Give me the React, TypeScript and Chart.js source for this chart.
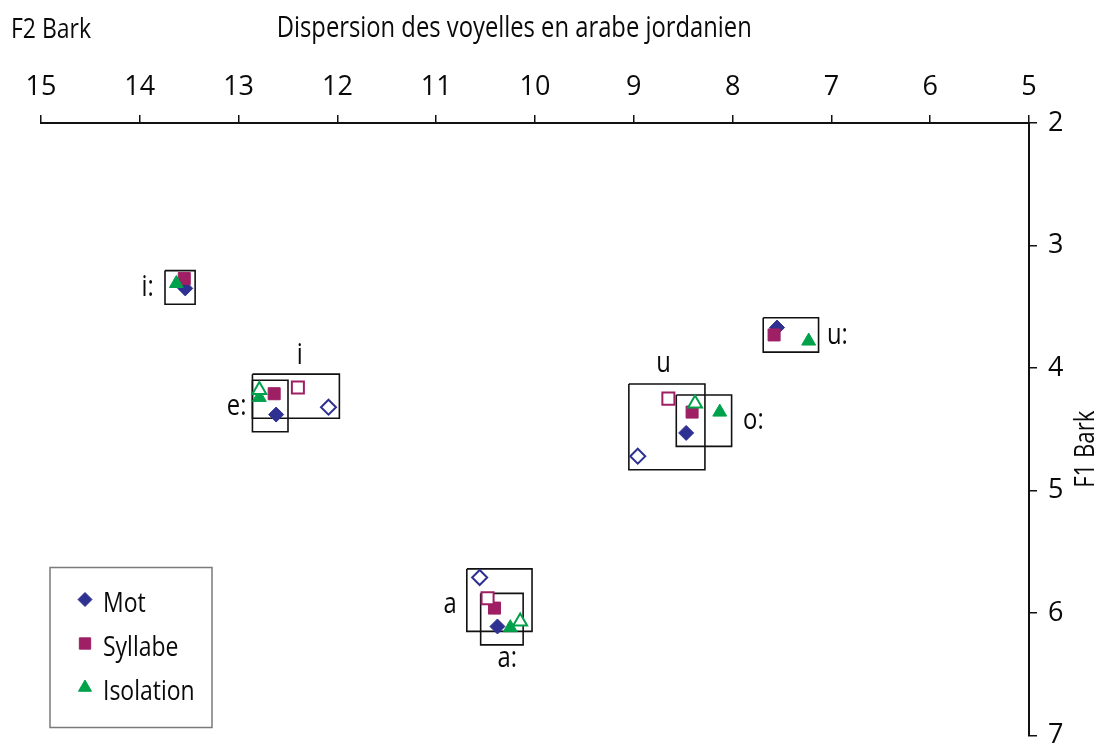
import React, { useEffect, useRef } from "react";
import { Chart, registerables } from "chart.js";
Chart.register(...registerables);

// Vowel categories (long vowels filled, short vowels hollow)
const vowels = ["i:", "e:", "u:", "o:", "a:", "i", "u", "a"];
const isShort = [false, false, false, false, false, true, true, true];

// Series values: F2 (Bark) and F1 (Bark)
const motF2 = [13.54, 12.62, 7.55, 8.47, 10.38, 12.09, 8.96, 10.56];
const motF1 = [3.35, 4.38, 3.67, 4.53, 6.11, 4.32, 4.72, 5.71];
const sylF2 = [13.55, 12.64, 7.58, 8.41, 10.41, 12.4, 8.65, 10.48];
const sylF1 = [3.27, 4.21, 3.73, 4.36, 5.96, 4.16, 4.25, 5.88];
const isoF2 = [13.63, 12.79, 7.23, 8.13, 10.25, 12.79, 8.38, 10.15];
const isoF1 = [3.31, 4.24, 3.78, 4.36, 6.12, 4.18, 4.29, 6.07];

// Dispersion boxes per vowel
const boxF2a = [13.745, 12.86, 7.69, 8.57, 10.55, 12.86, 9.05, 10.69];
const boxF2b = [13.44, 12.5, 7.13, 8.01, 10.12, 11.98, 8.28, 10.03];
const boxF1a = [3.205, 4.1, 3.59, 4.22, 5.84, 4.05, 4.13, 5.64];
const boxF1b = [3.48, 4.52, 3.87, 4.64, 6.26, 4.41, 4.83, 6.15];

// Vowel label anchor positions
const labelF2 = [13.92, 13.02, 6.94, 7.79, 10.28, 12.38, 8.7, 10.86];
const labelF1 = [3.41, 4.38, 3.8, 4.5, 6.44, 3.97, 4.03, 6.0];

// Axis ticks
const xTicks = [15, 14, 13, 12, 11, 10, 9, 8, 7, 6, 5];
const yTicks = [2, 3, 4, 5, 6, 7];

const seriesNames = ["Mot", "Syllabe", "Isolation"];
const seriesColors = ["#2e3192", "#9e1f63", "#00a14b"];
const seriesStyles = ["rectRot", "rect", "triangle"];
const seriesRadius = [7.5, 8.5, 8];

const FONT = '"Open Sans", "Noto Sans", sans-serif';
const CONDENSE = 0.82;

function drawText(
  ctx: CanvasRenderingContext2D,
  text: string,
  x: number,
  y: number,
  align: CanvasTextAlign,
  size: number,
  rotate = 0
) {
  ctx.save();
  ctx.translate(x, y);
  if (rotate) ctx.rotate(rotate);
  ctx.scale(CONDENSE, 1);
  ctx.font = `${size}px ${FONT}`;
  ctx.fillStyle = "#0a0a0a";
  ctx.textAlign = align;
  ctx.textBaseline = "alphabetic";
  ctx.fillText(text, 0, 0);
  ctx.restore();
}

function marker(ctx: CanvasRenderingContext2D, style: string, x: number, y: number, r: number, color: string) {
  ctx.save();
  ctx.fillStyle = color;
  ctx.strokeStyle = color;
  ctx.lineWidth = 1;
  ctx.beginPath();
  if (style === "rectRot") {
    ctx.moveTo(x, y - r);
    ctx.lineTo(x + r, y);
    ctx.lineTo(x, y + r);
    ctx.lineTo(x - r, y);
  } else if (style === "rect") {
    const s = Math.SQRT1_2 * r;
    ctx.rect(x - s, y - s, 2 * s, 2 * s);
  } else {
    let a = 0;
    ctx.moveTo(x + Math.sin(a) * r, y - Math.cos(a) * r);
    a += (2 * Math.PI) / 3;
    ctx.lineTo(x + Math.sin(a) * r, y - Math.cos(a) * r);
    a += (2 * Math.PI) / 3;
    ctx.lineTo(x + Math.sin(a) * r, y - Math.cos(a) * r);
  }
  ctx.closePath();
  ctx.fill();
  ctx.stroke();
  ctx.restore();
}

const annotations = {
  id: "annotations",
  afterDraw(chart: any) {
    const ctx: CanvasRenderingContext2D = chart.ctx;
    const xs = chart.scales.x;
    const ys = chart.scales.y;
    const area = chart.chartArea;

    // Titles
    drawText(ctx, "F2 Bark", 11, 38, "left", 28);
    drawText(ctx, "Dispersion des voyelles en arabe jordanien", area.left + (area.right - area.left) * 0.479, 37, "center", 29);
    drawText(ctx, "F1 Bark", area.right + 65, (area.top + area.bottom) / 2 + 20, "center", 27, -Math.PI / 2);

    // Vowel labels
    vowels.forEach((v, i) => {
      drawText(ctx, v, xs.getPixelForValue(labelF2[i]), ys.getPixelForValue(labelF1[i]), "center", 29);
    });

    // Legend
    const lx = area.left + 9;
    const lw = 162;
    const lh = 160;
    const ly = area.bottom - 8 - lh;
    ctx.save();
    ctx.strokeStyle = "#7a7a7a";
    ctx.lineWidth = 1.5;
    ctx.strokeRect(lx, ly, lw, lh);
    ctx.restore();
    seriesNames.forEach((name, i) => {
      const cy = ly + 32 + i * 44;
      marker(ctx, seriesStyles[i], lx + 35, cy, seriesRadius[i] - 0.5, seriesColors[i]);
      drawText(ctx, name, lx + 53, cy + 12, "left", 28);
    });
  },
};

export default function App() {
  const ref = useRef<HTMLCanvasElement | null>(null);

  useEffect(() => {
    if (!ref.current) return;
    document.body.style.margin = "0";

    const boxDatasets = vowels.map((v, i) => ({
      type: "line" as const,
      label: "box " + v,
      data: [
        { x: boxF2a[i], y: boxF1a[i] },
        { x: boxF2b[i], y: boxF1a[i] },
        { x: boxF2b[i], y: boxF1b[i] },
        { x: boxF2a[i], y: boxF1b[i] },
        { x: boxF2a[i], y: boxF1a[i] },
      ],
      borderColor: "#111",
      borderWidth: 1.6,
      pointRadius: 0,
      fill: false,
      tension: 0,
      order: 10,
    }));

    const seriesX = [motF2, sylF2, isoF2];
    const seriesY = [motF1, sylF1, isoF1];
    const markerDatasets = seriesNames.map((name, s) => ({
      type: "scatter" as const,
      label: name,
      data: vowels.map((_, i) => ({ x: seriesX[s][i], y: seriesY[s][i] })),
      pointStyle: seriesStyles[s],
      pointRadius: seriesRadius[s],
      pointBackgroundColor: isShort.map((h) => (h ? "#ffffff" : seriesColors[s])),
      pointBorderColor: seriesColors[s],
      pointBorderWidth: isShort.map((h) => (h ? 2 : 1)),
      order: 3 - s,
    }));

    const chart = new Chart(ref.current, {
      type: "scatter",
      data: { datasets: [...boxDatasets, ...markerDatasets] as any },
      options: {
        animation: false,
        responsive: false,
        maintainAspectRatio: false,
        layout: { padding: { left: 41, right: 0, top: 0, bottom: 5 } },
        plugins: { legend: { display: false }, tooltip: { enabled: false }, title: { display: false } },
        scales: {
          x: {
            type: "linear",
            position: "top",
            reverse: true,
            min: 5,
            max: 15,
            afterBuildTicks: (scale: any) => {
              scale.ticks = xTicks.map((v) => ({ value: v }));
            },
            afterFit: (scale: any) => {
              scale.height = 123;
              scale.paddingLeft = 0;
              scale.paddingRight = 0;
            },
            ticks: {
              color: "#0a0a0a",
              font: { family: FONT, size: 27 },
              padding: 11,
              maxRotation: 0,
              autoSkip: false,
            },
            grid: { drawOnChartArea: false, drawTicks: true, tickLength: 8, color: "#111", lineWidth: 1.5 },
            border: { display: true, color: "#111", width: 2 },
          },
          y: {
            type: "linear",
            position: "right",
            reverse: true,
            min: 2,
            max: 7,
            afterBuildTicks: (scale: any) => {
              scale.ticks = yTicks.map((v) => ({ value: v }));
            },
            afterFit: (scale: any) => {
              scale.width = 67;
              scale.paddingTop = 0;
              scale.paddingBottom = 0;
            },
            ticks: {
              color: "#0a0a0a",
              font: { family: FONT, size: 27 },
              padding: 11,
              autoSkip: false,
            },
            grid: { drawOnChartArea: false, drawTicks: true, tickLength: 8, color: "#111", lineWidth: 1.5 },
            border: { display: true, color: "#111", width: 2 },
          },
        },
      },
      plugins: [annotations],
    });

    return () => chart.destroy();
  }, []);

  return (
    <div style={{ position: "absolute", left: 0, top: 0, width: 1096, height: 746, background: "#fff" }}>
      <canvas ref={ref} width={1096} height={746} style={{ width: 1096, height: 746, display: "block" }} />
    </div>
  );
}
